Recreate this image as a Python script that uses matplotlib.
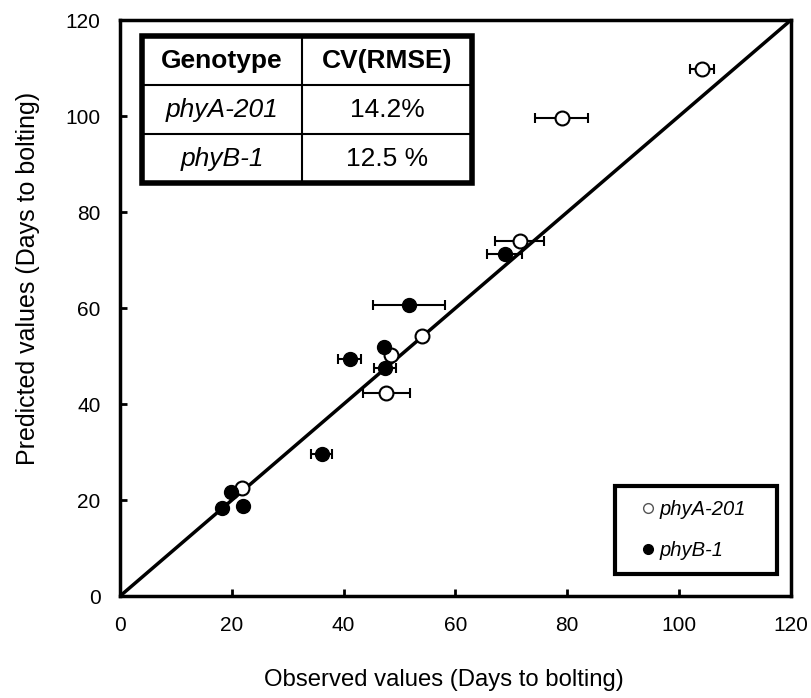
import matplotlib
matplotlib.use("Agg")
import matplotlib.pyplot as plt
from matplotlib.patches import Rectangle
from matplotlib.lines import Line2D
from matplotlib import font_manager

plt.rcParams['font.family'] = ['Liberation Sans', 'DejaVu Sans']

# phyA-201 (open circles)
phyA_obs = [104.1, 79.0, 71.5, 54.0, 48.5, 47.6, 21.8]
phyA_pred = [109.8, 99.7, 73.9, 54.3, 50.3, 42.4, 22.5]
phyA_err = [2.1, 4.7, 4.4, 0.0, 0.0, 4.2, 0.0]

# phyB-1 (filled circles)
phyB_obs = [68.8, 51.7, 47.2, 41.1, 47.4, 36.1, 19.9, 18.2, 22.0]
phyB_pred = [71.2, 60.7, 52.0, 49.5, 47.6, 29.6, 21.7, 18.4, 18.8]
phyB_err = [3.1, 6.4, 0.0, 2.1, 2.0, 1.9, 0.0, 0.0, 0.0]

ticks = [0, 20, 40, 60, 80, 100, 120]
table_header = ["Genotype", "CV(RMSE)"]
table_rows = [["phyA-201", "14.2%"], ["phyB-1", "12.5 %"]]
legend_labels = ["phyA-201", "phyB-1"]

# narrow font for tick labels if available
try:
    font_manager.findfont(font_manager.FontProperties(family='Liberation Sans Narrow'),
                          fallback_to_default=False)
    tick_font = dict(family=['Liberation Sans Narrow', 'Liberation Sans'], size=17)
except Exception:
    tick_font = dict(family=['Liberation Sans', 'DejaVu Sans'], size=15)

fig = plt.figure(figsize=(8.11, 6.98), dpi=100)
ax = fig.add_axes([0.148, 0.146, 0.827, 0.825])

# 1:1 line
ax.plot([0, 120], [0, 120], color='black', lw=2.5, zorder=2)

ax.errorbar(phyA_obs, phyA_pred, xerr=phyA_err, fmt='o', color='black',
            ms=10, mfc='white', mec='black', mew=1.5, ecolor='black',
            elinewidth=1.5, capsize=3.5, capthick=1.5, zorder=3)
ax.errorbar(phyB_obs, phyB_pred, xerr=phyB_err, fmt='o', color='black',
            ms=10, mfc='black', mec='black', ecolor='black', elinewidth=1.5,
            capsize=3.5, capthick=1.5, zorder=4)

ax.set_xlim(0, 120)
ax.set_ylim(0, 120)
ax.set_xticks(ticks)
ax.set_yticks(ticks)
ax.set_xticklabels([str(t) for t in ticks], **tick_font)
ax.set_yticklabels([str(t) for t in ticks], **tick_font)
ax.tick_params(direction='in', length=5, width=2, pad=14)
for s in ax.spines.values():
    s.set_linewidth(2.5)

fig.text(444 / 811, 1 - 680 / 698, "Observed values (Days to bolting)", fontsize=17.2,
         ha='center', va='center')
fig.text(28.5 / 811, 1 - 278 / 698, "Predicted values (Days to bolting)", fontsize=18,
         ha='center', va='center', rotation=90)

# table
x0, x1, xm = 0.0328, 0.5246, 0.2712
y_top, y_bot = 0.972, 0.717
h = (y_top - y_bot) / 3
for i in range(1, 3):
    ax.plot([x0, x1], [y_top - i * h] * 2, transform=ax.transAxes, color='black', lw=1.5, zorder=5)
ax.plot([xm, xm], [y_bot, y_top], transform=ax.transAxes, color='black', lw=1.5, zorder=5)
ax.add_patch(Rectangle((x0, y_bot), x1 - x0, y_top - y_bot, transform=ax.transAxes,
                       fill=True, facecolor='white', edgecolor='black', lw=4, zorder=4.5))
cx = [(x0 + xm) / 2, (xm + x1) / 2]
for j, txt in enumerate(table_header):
    ax.text(cx[j], y_top - h / 2, txt, transform=ax.transAxes, ha='center', va='center',
            fontsize=19, fontweight='bold', zorder=6)
for i, row in enumerate(table_rows):
    yc = y_top - (i + 1.5) * h
    ax.text(cx[0], yc, row[0], transform=ax.transAxes, ha='center', va='center',
            fontsize=19, style='italic', zorder=6)
    ax.text(cx[1], yc, row[1], transform=ax.transAxes, ha='center', va='center',
            fontsize=19, zorder=6)

# legend
handles = [Line2D([], [], marker='o', ls='none', ms=7, mfc='white', mec='#555555', mew=1.0),
           Line2D([], [], marker='o', ls='none', ms=7, mfc='black', mec='black')]
leg = ax.legend(handles, [l + "   " for l in legend_labels], loc='lower right',
                bbox_to_anchor=(0.979, 0.038), frameon=True, fancybox=False,
                edgecolor='black', handlelength=1.9, handletextpad=-0.4,
                borderpad=0.7, labelspacing=1.1, prop=dict(size=14.5, style='italic'),
                borderaxespad=0)
leg.get_frame().set_linewidth(3)
leg.get_frame().set_alpha(1)
leg.set_zorder(7)

fig.savefig("out.png", dpi=100)
